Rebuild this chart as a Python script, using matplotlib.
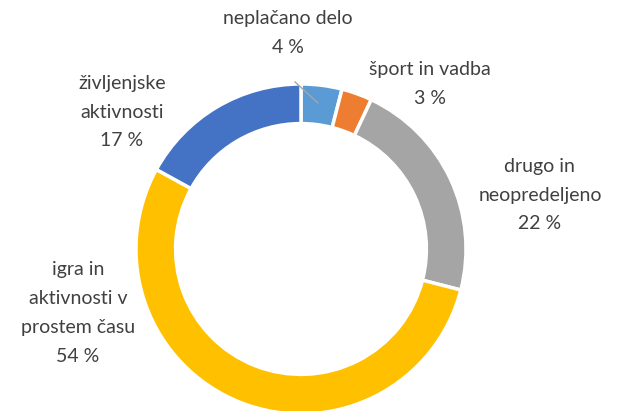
import matplotlib.pyplot as plt

# podatki
categories = ['neplačano delo', 'šport in vadba', 'drugo in\nneopredeljeno',
              'igra in\naktivnosti v\nprostem času', 'življenjske\naktivnosti']
values = [4, 3, 22, 54, 17]
colors = ['#5B9BD5', '#ED7D31', '#A5A5A5', '#FFC000', '#4472C4']

plt.rcParams['font.family'] = ['Lato', 'DejaVu Sans']

fig = plt.figure(figsize=(6.17, 4.11), dpi=100)
ax = fig.add_axes([0, 0, 1, 1])

wedges, _ = ax.pie(values, colors=colors, startangle=90, counterclock=False,
                   radius=1.0, wedgeprops=dict(width=0.24, edgecolor='white', linewidth=2.5))

# pozicije oznak (center besedila)
label_pos = [(-0.079, 1.309), (0.782, 1.0), (1.448, 0.327), (-1.352, -0.388), (-1.085, 0.830)]
for cat, v, (x, y) in zip(categories, values, label_pos):
    ax.text(x, y, f'{cat}\n{v} %', ha='center', va='center', fontsize=14,
            color='#404040', linespacing=1.85)

# povezovalna črta za majhen kos
ax.plot([-0.036, 0.103], [1.012, 0.885], color='#A5A5A5', linewidth=1)

ax.set_xlim(-1.824, 1.915)
ax.set_ylim(-0.982, 1.509)
ax.set_aspect('auto')
ax.axis('off')

fig.savefig('out.png', dpi=100)
